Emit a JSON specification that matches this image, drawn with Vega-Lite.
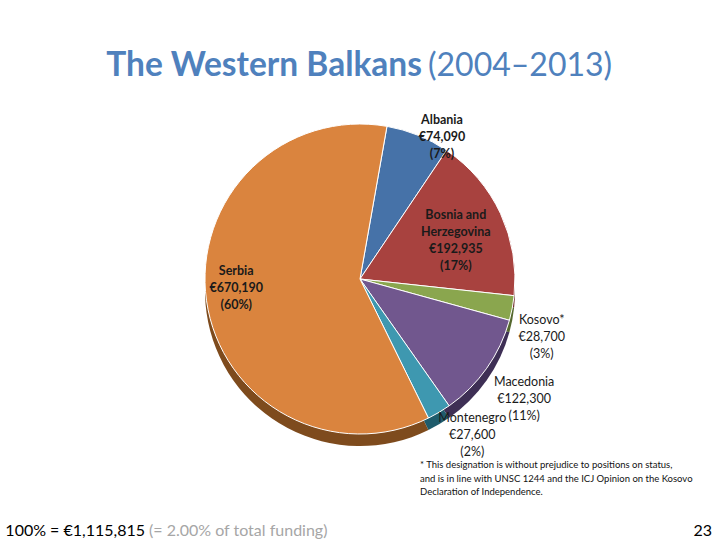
{
  "$schema": "https://vega.github.io/schema/vega-lite/v6.json",
  "background": "white",
  "padding": {"left": 0, "top": 48, "right": 0, "bottom": 0},
  "autosize": {"type": "pad"},
  "config": {"view": {"stroke": null}, "font": "Lato", "title": {"font": "Lato"}},
  "datasets": {
    "pie": [
      {"country": "Albania", "value": 74090, "label": "Albania\n€74,090\n(7%)"},
      {"country": "Bosnia and Herzegovina", "value": 192935, "label": "Bosnia and\nHerzegovina\n€192,935\n(17%)"},
      {"country": "Kosovo", "value": 28700, "label": "Kosovo*\n€28,700\n(3%)"},
      {"country": "Macedonia", "value": 122300, "label": "Macedonia\n€122,300\n(11%)"},
      {"country": "Montenegro", "value": 27600, "label": "Montenegro\n€27,600\n(2%)"},
      {"country": "Serbia", "value": 670190, "label": "Serbia\n€670,190\n(60%)"}
    ]
  },
  "bounds": "flush",
  "spacing": 0,
  "vconcat": [
    {
      "bounds": "flush",
      "spacing": 6,
      "hconcat": [
        {"width": 422, "height": 18, "data": {"values": []}, "mark": "text",
         "title": {"text": "The Western Balkans", "anchor": "end", "fontSize": 33.5, "fontWeight": "bold", "color": "#4F81BD", "offset": 21}},
        {"width": 294, "height": 18, "data": {"values": []}, "mark": "text",
         "title": {"text": "(2004–2013)", "anchor": "start", "fontSize": 32, "fontWeight": "normal", "color": "#4F81BD", "offset": 21}}
      ]
    },
    {
      "width": 720,
      "height": 350,
      "data": {"name": "pie"},
      "encoding": {
        "theta": {"field": "value", "type": "quantitative", "stack": true, "scale": {"range": [0.175, 6.458]}}
      },
      "layer": [
        {
          "mark": {"type": "arc", "radius": 155, "yOffset": 12},
          "encoding": {
            "color": {"field": "country", "type": "nominal", "legend": null,
              "scale": {"domain": ["Albania", "Bosnia and Herzegovina", "Kosovo", "Macedonia", "Montenegro", "Serbia"],
                        "range": ["#2B4A70", "#6E2B29", "#55682F", "#3E2F55", "#1F5C6C", "#7E4B1D"]}}
          }
        },
        {
          "mark": {"type": "arc", "radius": 155, "stroke": "white", "strokeWidth": 1},
          "encoding": {
            "color": {"field": "country", "type": "nominal", "legend": null,
              "scale": {"domain": ["Albania", "Bosnia and Herzegovina", "Kosovo", "Macedonia", "Montenegro", "Serbia"],
                        "range": ["#4672A8", "#A8423F", "#8AA64E", "#71578E", "#3E98B0", "#DA843E"]}}
          }
        },
        {
          "mark": {"type": "text", "radius": 171, "dx": 18, "align": "center", "baseline": "middle", "fontSize": 12.5, "fontWeight": "bold", "lineHeight": 17, "lineBreak": "\n", "color": "#1a1a1a"},
          "encoding": {"detail": {"field": "country", "type": "nominal"},
            "text": {"condition": {"test": "datum.country === 'Albania'", "field": "label", "type": "nominal"}, "value": ""}}
        },
        {
          "mark": {"type": "text", "radius": 120, "dx": -13, "dy": -13, "align": "center", "baseline": "middle", "fontSize": 12.5, "fontWeight": "bold", "lineHeight": 17, "lineBreak": "\n", "color": "#1a1a1a"},
          "encoding": {"detail": {"field": "country", "type": "nominal"},
            "text": {"condition": {"test": "datum.country === 'Bosnia and Herzegovina'", "field": "label", "type": "nominal"}, "value": ""}}
        },
        {
          "mark": {"type": "text", "radius": 125, "dy": -26, "align": "center", "baseline": "middle", "fontSize": 12.5, "fontWeight": "bold", "lineHeight": 17, "lineBreak": "\n", "color": "#1a1a1a"},
          "encoding": {"detail": {"field": "country", "type": "nominal"},
            "text": {"condition": {"test": "datum.country === 'Serbia'", "field": "label", "type": "nominal"}, "value": ""}}
        },
        {
          "mark": {"type": "text", "radius": 185, "align": "center", "baseline": "top", "fontSize": 12.5, "lineHeight": 17, "lineBreak": "\n", "color": "#1a1a1a"},
          "encoding": {"detail": {"field": "country", "type": "nominal"},
            "text": {"condition": {"test": "datum.country === 'Kosovo'", "field": "label", "type": "nominal"}, "value": ""}}
        },
        {
          "mark": {"type": "text", "radius": 191, "dx": 8, "dy": -7, "align": "center", "baseline": "middle", "fontSize": 12.5, "lineHeight": 17, "lineBreak": "\n", "color": "#1a1a1a"},
          "encoding": {"detail": {"field": "country", "type": "nominal"},
            "text": {"condition": {"test": "datum.country === 'Macedonia'", "field": "label", "type": "nominal"}, "value": ""}}
        },
        {
          "mark": {"type": "text", "radius": 181, "dx": 20, "dy": -17, "align": "center", "baseline": "middle", "fontSize": 12.5, "lineHeight": 17, "lineBreak": "\n", "color": "#1a1a1a"},
          "encoding": {"detail": {"field": "country", "type": "nominal"},
            "text": {"condition": {"test": "datum.country === 'Montenegro'", "field": "label", "type": "nominal"}, "value": ""}}
        }
      ],
      "resolve": {"scale": {"color": "independent"}}
    },
    {
      "bounds": "flush",
      "spacing": 0,
      "hconcat": [
        {"width": 420, "height": 1, "data": {"values": []}, "mark": "text"},
        {"width": 296, "height": 1, "data": {"values": []}, "mark": "text",
         "title": {"text": ["* This designation is without prejudice to positions on status,", "and is in line with UNSC 1244 and the ICJ Opinion on the Kosovo", "Declaration of Independence."],
                   "orient": "bottom", "anchor": "start", "align": "left", "fontSize": 9.5, "lineHeight": 13.5, "fontWeight": "normal", "color": "#111111", "offset": 5}}
      ]
    },
    {
      "bounds": "flush",
      "spacing": 4,
      "hconcat": [
        {"width": 145, "height": 60, "data": {"values": []}, "mark": "text",
         "title": {"text": "100% = €1,115,815", "orient": "bottom", "anchor": "end", "fontSize": 16, "fontWeight": "normal", "color": "#000000", "offset": 9}},
        {"width": 200, "height": 60, "data": {"values": []}, "mark": "text",
         "title": {"text": "(= 2.00% of total funding)", "orient": "bottom", "anchor": "start", "fontSize": 16, "fontWeight": "normal", "color": "#A6A6A6", "offset": 9}},
        {"width": 359, "height": 60, "data": {"values": []}, "mark": "text",
         "title": {"text": "23", "orient": "bottom", "anchor": "end", "fontSize": 16, "fontWeight": "normal", "color": "#000000", "offset": 9}}
      ]
    }
  ]
}
